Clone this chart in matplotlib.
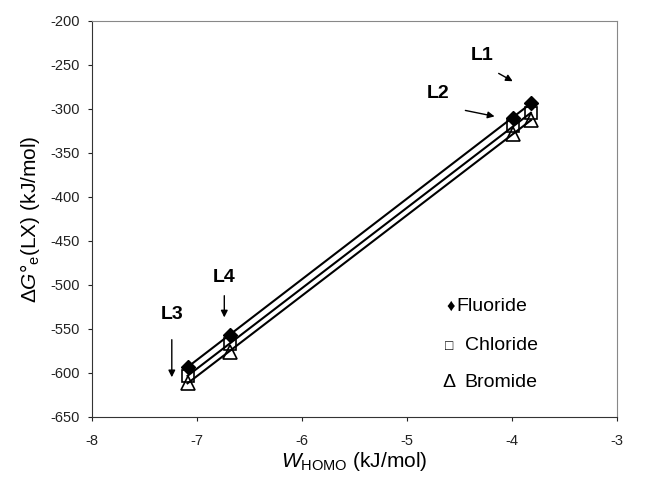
import numpy as np
import matplotlib
matplotlib.use("Agg")
import matplotlib.pyplot as plt

plt.rcParams['font.family'] = ['Liberation Sans', 'DejaVu Sans']
plt.rcParams['mathtext.fontset'] = 'custom'
plt.rcParams['mathtext.rm'] = 'Liberation Sans'
plt.rcParams['mathtext.it'] = 'Liberation Sans:italic'
plt.rcParams['mathtext.bf'] = 'Liberation Sans:bold'
plt.rcParams['axes.unicode_minus'] = False

ligands = ["L3", "L4", "L2", "L1"]
w_homo = [-7.09, -6.69, -3.99, -3.82]
fluoride = [-593, -557, -310, -293]
chloride = [-603, -567, -319, -305]
bromide = [-611, -576, -328, -313]

x_ticks = [-8, -7, -6, -5, -4, -3]
y_ticks = list(range(-650, -199, 50))

fig = plt.figure(figsize=(6.54, 4.78), dpi=100)
ax = fig.add_axes([92/654, 1-417/478, (617-92)/654, (417-21)/478])

x = np.array(w_homo)
xs = np.array([x.min(), x.max()])
for ys in (fluoride, chloride, bromide):
    k, b = np.polyfit(x, np.array(ys), 1)
    ax.plot(xs, k*xs + b, color='black', lw=1.5, zorder=2)

ax.plot(w_homo, fluoride, 'D', color='black', ms=7.5, zorder=4)
ax.plot(w_homo, chloride, 's', mfc='none', mec='black', mew=1.2, ms=8.5, zorder=3)
ax.plot(w_homo, bromide, '^', mfc='none', mec='black', mew=1.2, ms=9.5, zorder=3)

ax.set_xlim(-8, -3)
ax.set_ylim(-650, -200)
ax.set_xticks(x_ticks)
ax.set_yticks(y_ticks)
ax.tick_params(labelsize=10.5, colors='#222222', length=3, width=0.8)
ax.tick_params(axis='x', pad=9)
ax.tick_params(axis='y', pad=6)
for s in ['top', 'right']:
    ax.spines[s].set_color('#888888')
for s in ['left', 'bottom']:
    ax.spines[s].set_color('#333333')

ax.set_xlabel(r'$\mathit{W}_{\mathrm{HOMO}}$ (kJ/mol)', fontsize=15, labelpad=2)
ax.set_ylabel(r'$\Delta\mathit{G}$°$_{\mathrm{e}}$(LX) (kJ/mol)', fontsize=15, labelpad=6)

fb = dict(fontsize=14, fontweight='bold', ha='center', va='center')
ax.text(-4.28, -239, "L1", **fb)
ax.text(-4.70, -282, "L2", **fb)
ax.text(-7.24, -533, "L3", **fb)
ax.text(-6.74, -492, "L4", **fb)
ap = dict(arrowstyle='-|>', color='black', lw=1.0, mutation_scale=10)
ax.annotate("", xy=(-3.97, -270), xytext=(-4.15, -258), arrowprops=ap)
ax.annotate("", xy=(-4.14, -309), xytext=(-4.47, -301), arrowprops=ap)
ax.annotate("", xy=(-7.24, -608), xytext=(-7.24, -559), arrowprops=ap)
ax.annotate("", xy=(-6.74, -540), xytext=(-6.74, -509), arrowprops=ap)

fam = ['Liberation Sans', 'DejaVu Sans']
ax.text(-4.62, -524, "\u2666", fontsize=12, ha='left', va='center', family=fam)
ax.text(-4.53, -524, "Fluoride", fontsize=14, ha='left', va='center', family=fam)
ax.text(-4.64, -569, "\u25a1", fontsize=10, ha='left', va='center', family=fam)
ax.text(-4.45, -569, "Chloride", fontsize=14, ha='left', va='center', family=fam)
ax.text(-4.66, -611, "\u0394", fontsize=14, ha='left', va='center', family=fam)
ax.text(-4.45, -611, "Bromide", fontsize=14, ha='left', va='center', family=fam)

fig.savefig("out.png", dpi=100)
